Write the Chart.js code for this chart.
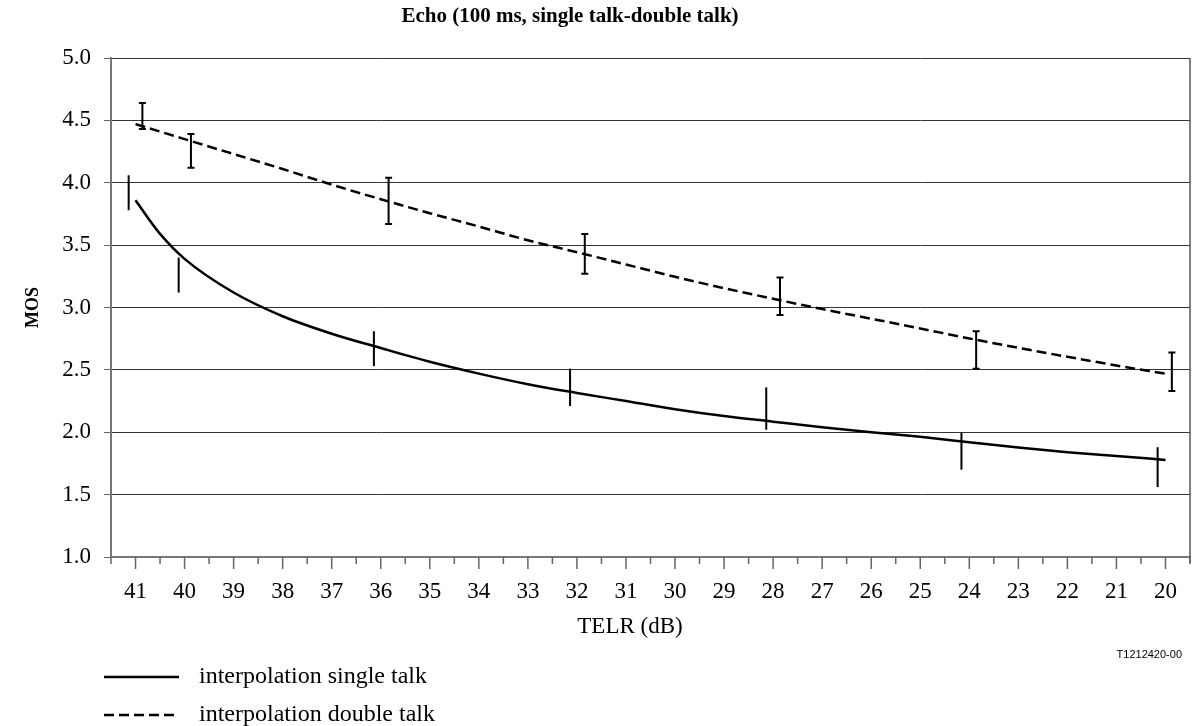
<!DOCTYPE html>
<html>
<head>
<meta charset="utf-8">
<title>Echo (100 ms, single talk-double talk)</title>
<script src="https://cdn.jsdelivr.net/npm/chart.js@4.4.0/dist/chart.umd.min.js"></script>
<style>
  html, body { margin: 0; padding: 0; background: #fff; }
  #wrap { width: 1192px; height: 726px; position: relative; }
</style>
</head>
<body>
<div id="wrap"><canvas id="echoChart" width="1192" height="726"></canvas></div>
<script>
// TELR axis (dB), drawn high to low
const telrTicks = [41, 40, 39, 38, 37, 36, 35, 34, 33, 32, 31, 30, 29, 28, 27, 26, 25, 24, 23, 22, 21, 20];

// interpolation curves
const singleTelr = [41, 40.75, 40.5, 40, 39, 38, 37, 36, 35, 34, 33, 32, 31, 30, 29, 28, 27, 26, 25, 24, 23, 22, 21, 20];
const singleMos  = [3.86, 3.72, 3.59, 3.39, 3.12, 2.93, 2.79, 2.675, 2.565, 2.47, 2.385, 2.315, 2.25, 2.185, 2.13, 2.085, 2.04, 2.0, 1.963, 1.92, 1.877, 1.84, 1.81, 1.778];
const doubleTelr = [41, 40, 39, 38, 37, 36, 35, 34, 33, 32, 31, 30, 29, 28, 27, 26, 25, 24, 23, 22, 21, 20];
const doubleMos  = [4.47, 4.35, 4.23, 4.11, 3.985, 3.868, 3.756, 3.649, 3.539, 3.443, 3.345, 3.246, 3.155, 3.07, 2.987, 2.91, 2.832, 2.752, 2.677, 2.605, 2.535, 2.469];

// measured MOS ranges (error bars)
const singleBarTelr = [41.14, 40.12, 36.14, 32.14, 28.14, 24.16, 20.16];
const singleBarLow  = [3.78, 3.12, 2.53, 2.21, 2.02, 1.70, 1.56];
const singleBarHigh = [4.06, 3.40, 2.81, 2.51, 2.36, 2.00, 1.88];
const doubleBarTelr = [40.86, 39.87, 35.84, 31.84, 27.86, 23.86, 19.87];
const doubleBarLow  = [4.43, 4.12, 3.67, 3.27, 2.94, 2.51, 2.33];
const doubleBarHigh = [4.64, 4.39, 4.04, 3.59, 3.24, 2.81, 2.64];

const SERIF = '"Liberation Serif", "Times New Roman", serif';
const SANS = '"Liberation Sans", Arial, sans-serif';

function toPoints(xs, ys) { return xs.map((x, i) => ({ x, y: ys[i] })); }

function drawBars(ctx, x, y, telr, low, high, cap) {
  telr.forEach((t, i) => {
    const px = x.getPixelForValue(t);
    const top = y.getPixelForValue(high[i]);
    const bot = y.getPixelForValue(low[i]);
    ctx.beginPath();
    ctx.moveTo(px, top); ctx.lineTo(px, bot);
    if (cap) {
      ctx.moveTo(px - cap, top); ctx.lineTo(px + cap, top);
      ctx.moveTo(px - cap, bot); ctx.lineTo(px + cap, bot);
    }
    ctx.stroke();
  });
}

const echoExtras = {
  id: 'echoExtras',
  afterDatasetsDraw(chart) {
    const { ctx, scales: { x, y } } = chart;
    ctx.save();
    ctx.strokeStyle = '#000';
    ctx.lineWidth = 2;
    drawBars(ctx, x, y, singleBarTelr, singleBarLow, singleBarHigh, 0);
    drawBars(ctx, x, y, doubleBarTelr, doubleBarLow, doubleBarHigh, 3.5);
    ctx.restore();
  },
  afterDraw(chart) {
    const { ctx, chartArea: area, scales: { x } } = chart;
    ctx.save();

    // frame on the right side
    ctx.strokeStyle = '#555';
    ctx.lineWidth = 1.5;
    ctx.beginPath();
    ctx.moveTo(area.right, area.top); ctx.lineTo(area.right, area.bottom + 6);
    ctx.stroke();

    // long marks on whole dB, short marks between them
    ctx.strokeStyle = '#666';
    ctx.lineWidth = 1.5;
    ctx.beginPath();
    telrTicks.forEach(t => {
      const px = x.getPixelForValue(t);
      ctx.moveTo(px, area.bottom); ctx.lineTo(px, area.bottom + 12);
      const hx = x.getPixelForValue(t + 0.5);
      ctx.moveTo(hx, area.bottom); ctx.lineTo(hx, area.bottom + 7);
    });
    const ex = x.getPixelForValue(telrTicks[telrTicks.length - 1] - 0.5);
    ctx.moveTo(ex, area.bottom); ctx.lineTo(ex, area.bottom + 7);
    ctx.stroke();

    ctx.fillStyle = '#000';
    ctx.textBaseline = 'middle';

    ctx.textAlign = 'center';
    ctx.font = `bold 21px ${SERIF}`;
    ctx.fillText('Echo (100 ms, single talk-double talk)', 570, 17);

    ctx.font = `23px ${SERIF}`;
    ctx.fillText('TELR (dB)', 630, 627);

    ctx.textAlign = 'right';
    ctx.font = `11px ${SANS}`;
    ctx.fillText('T1212420-00', 1182, 655);

    // legend
    const rows = [
      { ds: chart.data.datasets[0], y: 677 },
      { ds: chart.data.datasets[1], y: 715 }
    ];
    ctx.textAlign = 'left';
    ctx.font = `24px ${SERIF}`;
    rows.forEach(r => {
      ctx.strokeStyle = '#000';
      ctx.lineWidth = r.ds.borderWidth;
      ctx.setLineDash(r.ds.borderDash || []);
      ctx.beginPath();
      ctx.moveTo(104, r.y); ctx.lineTo(179, r.y);
      ctx.stroke();
      ctx.setLineDash([]);
      ctx.fillText(r.ds.label, 199, r.y);
    });
    ctx.restore();
  }
};

new Chart(document.getElementById('echoChart'), {
  type: 'line',
  data: {
    datasets: [
      {
        label: 'interpolation single talk',
        data: toPoints(singleTelr, singleMos),
        borderColor: '#000', borderWidth: 2.5,
        pointRadius: 0, cubicInterpolationMode: 'monotone', fill: false
      },
      {
        label: 'interpolation double talk',
        data: toPoints(doubleTelr, doubleMos),
        borderColor: '#000', borderWidth: 2.5, borderDash: [10, 5],
        pointRadius: 0, cubicInterpolationMode: 'monotone', fill: false
      }
    ]
  },
  options: {
    responsive: false,
    animation: false,
    devicePixelRatio: 1,
    layout: { padding: { top: 58, right: 2, bottom: 119, left: 0 } },
    plugins: { legend: { display: false }, tooltip: { enabled: false } },
    scales: {
      x: {
        type: 'linear', reverse: true, min: 19.5, max: 41.5,
        clip: false,
        afterBuildTicks: s => { s.ticks = telrTicks.map(v => ({ value: v })); },
        afterFit: s => { s.height = 50; s.paddingLeft = 0; s.paddingRight = 0; },
        grid: { display: false, drawTicks: false },
        border: { display: true, color: '#777', width: 2 },
        ticks: { color: '#000', font: { family: SERIF, size: 23 }, padding: 21, autoSkip: false, maxRotation: 0 }
      },
      y: {
        min: 1, max: 5,
        afterFit: s => { s.width = 111; },
        grid: { color: '#333', lineWidth: 1, tickLength: 7, tickColor: '#666' },
        border: { display: true, color: '#777', width: 2 },
        ticks: {
          stepSize: 0.5, color: '#000', padding: 13,
          font: { family: SERIF, size: 23 },
          callback: v => v.toFixed(1)
        },
        title: {
          display: true, text: 'MOS', color: '#000',
          font: { family: SERIF, size: 18, weight: 'bold' },
          padding: { top: 23 }
        }
      }
    }
  },
  plugins: [echoExtras]
});
</script>
</body>
</html>
